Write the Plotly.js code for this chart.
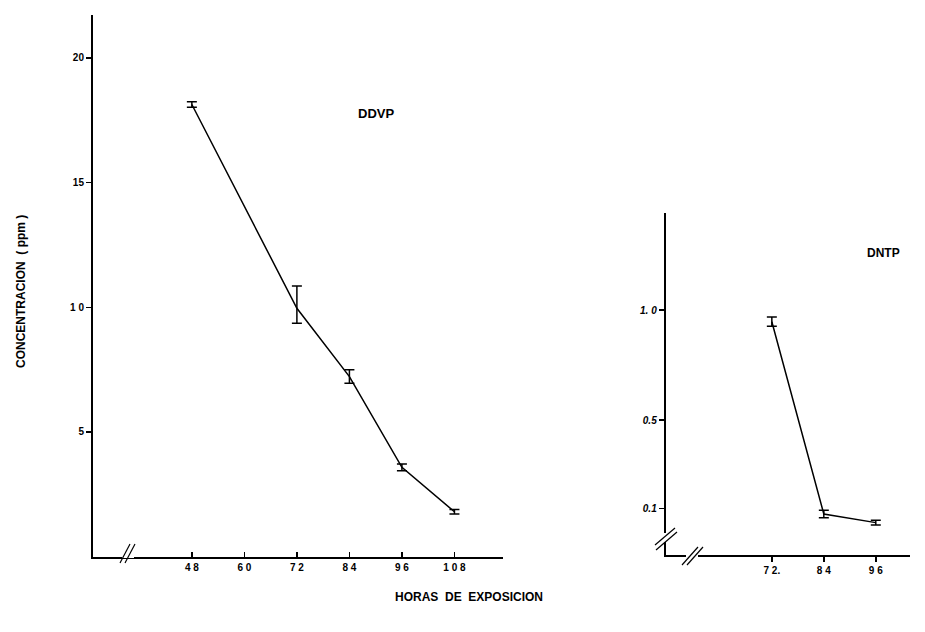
<!DOCTYPE html>
<html><head><meta charset="utf-8">
<script src="https://cdn.plot.ly/plotly-3.0.1.min.js"></script>
<style>html,body{margin:0;padding:0;background:#fff}#chart{width:925px;height:632px}</style>
</head><body><div id="chart"></div>
<script>
// DDVP panel
const ddvpHours = [48, 72, 84, 96, 108];
const ddvpConc = [18.13, 9.96, 7.22, 3.58, 1.80];
const ddvpErrPlus = [0.11, 0.89, 0.27, 0.14, 0.09];
const ddvpErrMinus = [0.11, 0.60, 0.27, 0.13, 0.09];
const ddvpXTicks = [48, 60, 72, 84, 96, 108];
const ddvpXText = ['4 8', '6 0', '7 2', '8 4', '9 6', '1 0 8'];
const ddvpYTicks = [5, 10, 15, 20];
const ddvpYText = ['5', '1 0', '15', '20'];
// DNTP panel
const dntpHours = [72, 84, 96];
const dntpConc = [0.947, 0.074, 0.035];
const dntpErr = [0.021, 0.017, 0.011];
const dntpXTicks = [72, 84, 96];
const dntpXText = ['7 2.', '8 4', '9 6'];
const dntpYTicks = [0.1, 0.5, 1.0];
const dntpYText = ['0.1', '0.5', '1. 0'];

const FAM = 'Liberation Sans, Arial, sans-serif';
const tickFont = {family: FAM, size: 10, color: '#000', weight: 'bold'};
const lblFont = {family: FAM, size: 13, color: '#000', weight: 'bold'};

const traces = [
  {x: ddvpHours, y: ddvpConc, xaxis: 'x', yaxis: 'y', mode: 'lines',
   line: {color: '#000', width: 1.5},
   error_y: {type: 'data', array: ddvpErrPlus, arrayminus: ddvpErrMinus, symmetric: false,
             color: '#000', thickness: 1.5, width: 5}},
  {x: dntpHours, y: dntpConc, xaxis: 'x2', yaxis: 'y2', mode: 'lines',
   line: {color: '#000', width: 1.5},
   error_y: {type: 'data', array: dntpErr, color: '#000', thickness: 1.5, width: 5}}
];

const axBase = {showgrid: false, zeroline: false, showline: true, linecolor: '#000', linewidth: 2,
  tickcolor: '#000', tickwidth: 1.5, ticklen: 5, tickfont: tickFont, tickmode: 'array', fixedrange: true};

const layout = {
  width: 925, height: 632, margin: {l: 0, r: 0, t: 0, b: 0},
  paper_bgcolor: '#fff', plot_bgcolor: 'rgba(0,0,0,0)', showlegend: false,
  xaxis: Object.assign({}, axBase, {domain: [0.1005, 0.5438], range: [25.4, 119.1],
    tickvals: ddvpXTicks, ticktext: ddvpXText, ticks: 'inside', anchor: 'y'}),
  yaxis: Object.assign({}, axBase, {domain: [0.1192, 0.9763], range: [0, 21.72],
    tickvals: ddvpYTicks, ticktext: ddvpYText, ticks: 'outside', anchor: 'x'}),
  xaxis2: Object.assign({}, axBase, {domain: [0.7197, 0.9838], range: [47.5, 103.9],
    tickvals: dntpXTicks, ticktext: dntpXText, ticks: 'outside', anchor: 'y2'}),
  yaxis2: Object.assign({}, axBase, {domain: [0.1218, 0.6625], range: [-0.112, 1.439],
    tickvals: dntpYTicks, ticktext: dntpYText, ticks: 'outside', anchor: 'x2',
    tickfont: Object.assign({}, tickFont, {style: 'italic'})}),
  annotations: [
    {text: 'DDVP', xref: 'paper', yref: 'paper', x: 376/925, y: 1 - 114/632, xanchor: 'center', yanchor: 'middle',
     showarrow: false, font: lblFont},
    {text: 'DNTP', xref: 'paper', yref: 'paper', x: 883/925, y: 1 - 253/632, xanchor: 'center', yanchor: 'middle',
     showarrow: false, font: {family: FAM, size: 12, color: '#000', weight: 'bold'}},
    {text: 'CONCENTRACION  ( ppm )', xref: 'paper', yref: 'paper', x: 21/925, y: 1 - 292/632,
     xanchor: 'center', yanchor: 'middle', showarrow: false,
     textangle: -90, font: {family: FAM, size: 12, color: '#000', weight: 'bold'}},
    {text: 'HORAS  DE  EXPOSICION', xref: 'paper', yref: 'paper', x: 469/925, y: 1 - 597/632,
     xanchor: 'center', yanchor: 'middle', showarrow: false,
     font: {family: FAM, size: 12, color: '#000', weight: 'bold'}}
  ],
  shapes: [
    // axis break marks
    {type: 'rect', xref: 'paper', yref: 'paper', x0: 122/925, x1: 134/925, y0: 1 - 558/632, y1: 1 - 549/632,
     line: {width: 0}, fillcolor: '#fff'},
    {type: 'line', xref: 'paper', yref: 'paper', x0: 120/925, x1: 130/925, y0: 1 - 563/632, y1: 1 - 544/632, line: {color: '#000', width: 1.2}},
    {type: 'line', xref: 'paper', yref: 'paper', x0: 125/925, x1: 135/925, y0: 1 - 563/632, y1: 1 - 544/632, line: {color: '#000', width: 1.2}},
    {type: 'rect', xref: 'paper', yref: 'paper', x0: 660/925, x1: 672/925, y0: 1 - 542/632, y1: 1 - 533/632,
     line: {width: 0}, fillcolor: '#fff'},
    {type: 'line', xref: 'paper', yref: 'paper', x0: 655/925, x1: 675/925, y0: 1 - 545/632, y1: 1 - 528/632, line: {color: '#000', width: 1.2}},
    {type: 'line', xref: 'paper', yref: 'paper', x0: 656/925, x1: 677/925, y0: 1 - 550/632, y1: 1 - 532/632, line: {color: '#000', width: 1.2}},
    {type: 'rect', xref: 'paper', yref: 'paper', x0: 686/925, x1: 698/925, y0: 1 - 559/632, y1: 1 - 551/632,
     line: {width: 0}, fillcolor: '#fff'},
    {type: 'line', xref: 'paper', yref: 'paper', x0: 682/925, x1: 698/925, y0: 1 - 565/632, y1: 1 - 547/632, line: {color: '#000', width: 1.2}},
    {type: 'line', xref: 'paper', yref: 'paper', x0: 687/925, x1: 703/925, y0: 1 - 565/632, y1: 1 - 547/632, line: {color: '#000', width: 1.2}}
  ]
};

Plotly.newPlot('chart', traces, layout, {displayModeBar: false, staticPlot: true});
</script></body></html>
